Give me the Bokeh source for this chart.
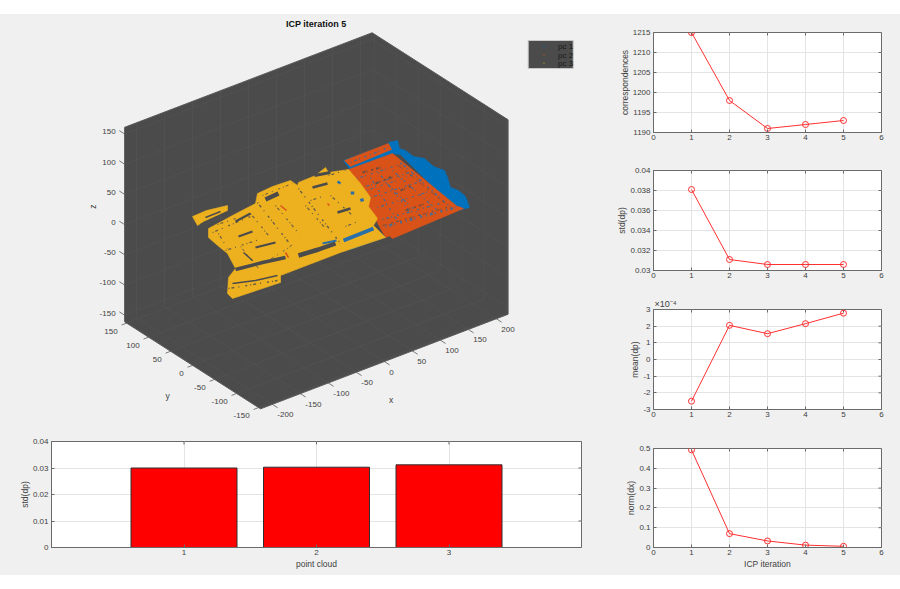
import math
from bokeh.embed import file_html
from bokeh.resources import INLINE
from bokeh.plotting import figure
from bokeh.layouts import column, row
from bokeh.models import Range1d, FixedTicker, Title
from bokeh.core.properties import value

# ---- data ----
iterations = [1, 2, 3, 4, 5]
correspondences = [1215, 1198, 1191, 1192, 1193]
std_dp = [0.0381, 0.0311, 0.0306, 0.0306, 0.0306]
mean_dp_e4 = [-2.5, 2.05, 1.55, 2.15, 2.78]
norm_dx = [0.493, 0.07, 0.033, 0.012, 0.006]
clouds = [1, 2, 3]
cloud_std = [0.0300, 0.0303, 0.0312]
legend_names = ["pc 1", "pc 2", "pc 3"]

x_ticks_3d = [-200, -150, -100, -50, 0, 50, 100, 150, 200]
y_ticks_3d = [-150, -100, -50, 0, 50, 100, 150]
z_ticks_3d = [-150, -100, -50, 0, 50, 100, 150]
x_lim, y_lim, z_lim = 221, 154.5, 161

# cloud silhouettes and details, in projected (picture) coordinates
blue_shapes = [
    [(388, 142), (397, 140), (399, 148), (405, 150), (413, 156), (424, 158), (433, 166), (444, 170), (447, 177),
     (450, 187), (458, 190), (465, 196), (469, 207), (457, 210), (446, 200), (426, 180), (400, 154), (390, 153)],
    [(343, 240), (373, 228), (385, 236), (350, 249)],
    [(343, 160), (390, 143), (392, 153), (350, 170)],
]
orange_shapes = [
    [(348, 169), (392, 153), (458, 207), (385, 237)],
    [(344, 160), (388, 143), (391, 149), (350, 166)],
    [(385, 232), (458, 206), (463, 208), (392, 238)],
]
yellow_shapes = [
    [(192, 216), (206, 210), (227, 205), (227, 210), (203, 221), (197, 225)],
    [(208, 228), (232, 215), (255, 203), (257, 193), (272, 186), (290, 180), (297, 185), (298, 182), (315, 175),
     (325, 167), (328, 172), (348, 169), (360, 183), (370, 197), (368, 206), (377, 218), (373, 225), (385, 237),
     (340, 252), (280, 275), (280, 282), (232, 298), (227, 293), (228, 277), (235, 268), (227, 253), (216, 244),
     (208, 237)],
]
# (polyline, width) of the gaps in the yellow cloud
dark_solid = [
    ([(235, 269), (262, 262), (285, 257)], 3.5),
    ([(265, 199), (278, 193)], 4.5),
    ([(298, 255), (318, 249), (335, 243)], 4.5),
    ([(312, 187), (327, 183)], 2.5),
    ([(314, 175), (330, 172)], 3),
    ([(235, 221), (250, 213)], 2.5),
    ([(238, 236), (252, 231)], 2),
    ([(255, 247), (275, 242)], 2),
    ([(337, 212), (350, 208)], 2.5),
    ([(205, 217), (220, 211)], 1.5),
    ([(243, 252), (252, 260)], 1.5),
    ([(232, 283), (255, 280), (277, 275)], 1.5),
]
dark_dotted = [
    ([(250, 213), (268, 235)], 1.2),
    ([(218, 233), (227, 248)], 1.2),
    ([(257, 202), (293, 248)], 1.4),
    ([(298, 188), (340, 243)], 1.4),
    ([(212, 232), (250, 216)], 1.2),
    ([(225, 250), (262, 238)], 1.2),
    ([(228, 288), (277, 280)], 1.5),
    ([(305, 205), (325, 228)], 1.2),
    ([(275, 205), (300, 235)], 1.2),
    ([(330, 195), (352, 215)], 1.2),
    ([(240, 246), (258, 268)], 1.0),
    ([(328, 175), (345, 170)], 1.2),
    ([(262, 195), (292, 183)], 1.0),
    ([(200, 224), (226, 212)], 1.4),
    ([(217, 224), (235, 218)], 1.2),
    ([(268, 260), (290, 246)], 1.0),
    ([(310, 200), (322, 196)], 1.2),
    ([(345, 226), (360, 220)], 1.2),
]
blue_on_yellow = [
    ([(343, 240), (373, 228)], 4),
    ([(352, 191), (352, 194)], 3.5),
    ([(361, 198), (362, 201)], 3.5),
    ([(337, 181), (340, 183)], 2.5),
    ([(322, 243), (336, 240)], 2),
]
orange_on_yellow = [
    ([(327, 203), (329, 205)], 1.5),
    ([(285, 252), (288, 257)], 1.5),
    ([(280, 205), (286, 210)], 1.5),
]
blue_on_orange = [
    ([(385, 226), (455, 207)], 2.5),
    ([(382, 219), (443, 202)], 1.5),
    ([(377, 207), (432, 190)], 1.2),
    ([(370, 197), (423, 180)], 1.2),
    ([(362, 187), (412, 171)], 1.2),
    ([(356, 178), (402, 163)], 1.2),
    ([(385, 182), (420, 215)], 1.2),
    ([(370, 177), (398, 222)], 1.2),
    ([(400, 162), (448, 205)], 1.5),
    ([(392, 170), (436, 209)], 1.2),
    ([(350, 162), (385, 148)], 1.5),
    ([(378, 172), (410, 212)], 1.2),
    ([(366, 190), (420, 172)], 1.0),
]
dark_on_orange = [
    ([(362, 172), (380, 167)], 2),
    ([(375, 183), (392, 176)], 2),
    ([(400, 190), (412, 185)], 2),
    ([(382, 225), (450, 206)], 1.0),
    ([(405, 210), (425, 203)], 1.5),
    ([(398, 165), (445, 203)], 1.0),
]

BG = "#f0f0f0"
INK = "#404040"
EDGE = "#6a6a6a"
GRID = "#e4e4e4"
FONT = "Liberation Sans"


# ---- projection of the 3-D view ----
def project(x, y, z):
    return (315.85 + 0.56 * x - 0.44 * y, 220.3 - 0.214 * x - 0.2816 * y - 0.604 * z)


def poly(pts):
    return [q[0] for q in pts], [q[1] for q in pts]


# the column lines this frame up with the bar chart's frame, so its range spans only that frame
fig3d = figure(width=610, height=416, x_range=Range1d(51, 581), y_range=Range1d(430, 14),
               output_backend="svg", toolbar_location=None, min_border_left=51, min_border_right=29,
               min_border_top=0, min_border_bottom=0,
               background_fill_color=BG, border_fill_color=BG, outline_line_color=None)
fig3d.axis.visible = False
fig3d.grid.visible = False

CUBE = "#4b4b4b"
hexagon = [project(-x_lim, y_lim, z_lim), project(x_lim, y_lim, z_lim), project(x_lim, -y_lim, z_lim),
           project(x_lim, -y_lim, -z_lim), project(-x_lim, -y_lim, -z_lim), project(-x_lim, y_lim, -z_lim)]
hx, hy = poly(hexagon)
fig3d.patch(hx, hy, fill_color=CUBE, line_color="#5a5a5a", line_width=1)

gx, gy = [], []
for t in x_ticks_3d:
    a, b, c = project(t, -y_lim, -z_lim), project(t, y_lim, -z_lim), project(t, y_lim, z_lim)
    gx.append([a[0], b[0], c[0]]); gy.append([a[1], b[1], c[1]])
for t in y_ticks_3d:
    a, b, c = project(-x_lim, t, -z_lim), project(x_lim, t, -z_lim), project(x_lim, t, z_lim)
    gx.append([a[0], b[0], c[0]]); gy.append([a[1], b[1], c[1]])
for t in z_ticks_3d:
    a, b, c = project(-x_lim, y_lim, t), project(x_lim, y_lim, t), project(x_lim, -y_lim, t)
    gx.append([a[0], b[0], c[0]]); gy.append([a[1], b[1], c[1]])
fig3d.multi_line(gx, gy, line_color="#535353", line_width=0.7)

tx, ty = [], []
for t in z_ticks_3d:
    a, b = project(-x_lim, y_lim, t), project(-x_lim, y_lim + 12, t)
    tx.append([a[0], b[0]]); ty.append([a[1], b[1]])
for t in y_ticks_3d:
    a, b = project(-x_lim, t, -z_lim), project(-x_lim - 9, t, -z_lim)
    tx.append([a[0], b[0]]); ty.append([a[1], b[1]])
for t in x_ticks_3d:
    a, b = project(t, -y_lim, -z_lim), project(t, -y_lim - 12, -z_lim)
    tx.append([a[0], b[0]]); ty.append([a[1], b[1]])
fig3d.multi_line(tx, ty, line_color="#5a5a5a", line_width=0.8)


def tick_text(xs, ys, labels, align):
    fig3d.text(xs, ys, text=labels, text_font=value(FONT), text_font_size="8px", text_color=INK,
               text_align=align, text_baseline="middle")


zp = [project(-x_lim, y_lim, t) for t in z_ticks_3d]
tick_text([q[0] - 9 for q in zp], [q[1] - 2 for q in zp], [str(t) for t in z_ticks_3d], "right")
yp = [project(-x_lim, t, -z_lim) for t in y_ticks_3d]
tick_text([q[0] - 9 for q in yp], [q[1] + 8 for q in yp], [str(t) for t in y_ticks_3d], "right")
xp = [project(t, -y_lim, -z_lim) for t in x_ticks_3d]
tick_text([q[0] + 5 for q in xp], [q[1] + 10.5 for q in xp], [str(t) for t in x_ticks_3d], "left")

for lab, lx, ly, ang in [("x", 390.7, 399.5, 0), ("y", 167, 395, 0), ("z", 92, 206, math.pi / 2)]:
    fig3d.text([lx], [ly], text=[lab], text_font=value(FONT), text_font_size="8.5px", text_color=INK,
               text_align="center", text_baseline="middle", angle=ang)
fig3d.text([315.7], [23.7], text=["ICP iteration 5"], text_font=value(FONT), text_font_size="9px",
           text_font_style="bold", text_color="#111111", text_align="center", text_baseline="middle")

# cloud
BLUE, ORANGE, YELLOW = "#0072BD", "#D95319", "#EDB120"
for s in blue_shapes:
    fig3d.patch(*poly(s), fill_color=BLUE, line_color=BLUE, line_width=0.6)
for s in orange_shapes:
    fig3d.patch(*poly(s), fill_color=ORANGE, line_color=ORANGE, line_width=0.6)


def strokes(items, color, dash="solid", alpha=1.0):
    for pts, w in items:
        fig3d.line(*poly(pts), line_color=color, line_width=w, line_dash=dash, line_alpha=alpha)


strokes(blue_on_orange, "#2a6fa8", "1 3 3 2 1 5 2 4", 0.8)
strokes(dark_on_orange, "#4b4b4b", "3 1 1 4 2 3", 0.75)
for s in yellow_shapes:
    fig3d.patch(*poly(s), fill_color=YELLOW, line_color=YELLOW, line_width=0.6)
strokes(dark_solid, "#4b4b4b")
strokes(dark_dotted, "#4b4b4b", "1 2 3 4 1 6 2 3", 0.8)
strokes(blue_on_yellow, "#2a6fa8")
strokes(orange_on_yellow, ORANGE)

# legend box
fig3d.quad(left=[527.7], right=[572.7], top=[40], bottom=[68], fill_color=CUBE, line_color="#c8c8c8", line_width=1)
ly = [46, 54.5, 62.5]
fig3d.scatter([543.5] * 3, ly, size=1.2, color=[BLUE, ORANGE, YELLOW], line_color=None)
fig3d.text([557.5] * 3, ly, text=legend_names, text_font=value(FONT), text_font_size="8px", text_color="#1a1a1a",
           text_align="left", text_baseline="middle")


# ---- 2-D panels ----
def panel(width, height, x_range, y_range, xticks, yticks, ylabels, ylabel, xlabel=None,
          left=43, right=19, top=19, bottom=20, xlabels=None):
    p = figure(width=width, height=height, x_range=Range1d(*x_range), y_range=Range1d(*y_range),
               output_backend="svg", toolbar_location=None, min_border_left=left, min_border_right=right,
               min_border_top=top, min_border_bottom=bottom, background_fill_color="white",
               border_fill_color=BG, outline_line_color=EDGE, outline_line_width=1)
    p.xaxis.ticker = FixedTicker(ticks=xticks)
    p.yaxis.ticker = FixedTicker(ticks=yticks)
    if xlabels:
        p.xaxis.major_label_overrides = dict(zip(xticks, xlabels))
    p.yaxis.major_label_overrides = dict(zip(yticks, ylabels))
    for ax in (p.xaxis[0], p.yaxis[0]):
        ax.axis_line_color = EDGE
        ax.major_tick_line_color = EDGE
        ax.major_tick_in = 3
        ax.major_tick_out = 0
        ax.minor_tick_line_color = None
        ax.major_label_text_font = FONT
        ax.major_label_text_font_size = "8px"
        ax.major_label_text_color = INK
        ax.major_label_standoff = 3
        ax.axis_label_text_font = FONT
        ax.axis_label_text_font_size = "8.5px"
        ax.axis_label_text_font_style = "normal"
        ax.axis_label_text_color = INK
    p.xaxis[0].major_label_standoff = 2
    p.xaxis[0].axis_label_standoff = 1
    p.yaxis[0].axis_label_standoff = 0
    p.yaxis.axis_label = ylabel
    if xlabel:
        p.xaxis.axis_label = xlabel
    p.grid.grid_line_color = GRID
    p.grid.grid_line_width = 1
    # the matching ticks on the opposite sides of the box
    p.ray(xticks, [y_range[1]] * len(xticks), length=3, length_units="screen", angle=-math.pi / 2,
          line_color=EDGE, line_width=1)
    p.ray([x_range[1]] * len(yticks), yticks, length=3, length_units="screen", angle=math.pi,
          line_color=EDGE, line_width=1)
    return p


def line_panel(values, y_range, yticks, ylabels, ylabel, height, top=19, bottom=20, xlabel=None):
    xticks = [0, 1, 2, 3, 4, 5, 6]
    p = panel(290, height, (0, 6), y_range, xticks, yticks, ylabels, ylabel, xlabel=xlabel, top=top, bottom=bottom)
    p.line(iterations, values, line_color="#ff3030", line_width=1)
    p.scatter(iterations, values, marker="circle", size=6, fill_color=None, line_color="#ff3030", line_width=1)
    return p


p1 = line_panel(correspondences, (1190, 1215), [1190, 1195, 1200, 1205, 1210, 1215],
                ["1190", "1195", "1200", "1205", "1210", "1215"], "correspondences", 137, top=18, bottom=19)
p2 = line_panel(std_dp, (0.03, 0.04), [0.03, 0.032, 0.034, 0.036, 0.038, 0.04],
                ["0.03", "0.032", "0.034", "0.036", "0.038", "0.04"], "std(dp)", 139)
p3 = line_panel(mean_dp_e4, (-3, 3), [-3, -2, -1, 0, 1, 2, 3],
                ["-3", "-2", "-1", "0", "1", "2", "3"], "mean(dp)", 139)
p3.add_layout(Title(text="×10⁻⁴", align="left", offset=1, standoff=2, text_font=FONT, text_font_size="9px",
                    text_font_style="normal", text_color=INK), "above")
p4 = line_panel(norm_dx, (0, 0.5), [0, 0.1, 0.2, 0.3, 0.4, 0.5],
                ["0", "0.1", "0.2", "0.3", "0.4", "0.5"], "norm(dx)", 146, bottom=28, xlabel="ICP iteration")

bar = panel(610, 145, (0, 4), (0, 0.04), [1, 2, 3], [0, 0.01, 0.02, 0.03, 0.04],
            ["0", "0.01", "0.02", "0.03", "0.04"], "std(dp)", xlabel="point cloud",
            left=51, right=29, top=11, bottom=28)
bar.vbar(x=clouds, top=cloud_std, width=0.8, fill_color="#ff0000", line_color="#303030", line_width=1)

root = row(column(fig3d, bar, spacing=0, styles={"background-color": BG}),
           column(p1, p2, p3, p4, spacing=0, styles={"background-color": BG}), spacing=0,
           styles={"margin-top": "14px", "background-color": BG})

open("out.html", "w").write(file_html(root, INLINE))
